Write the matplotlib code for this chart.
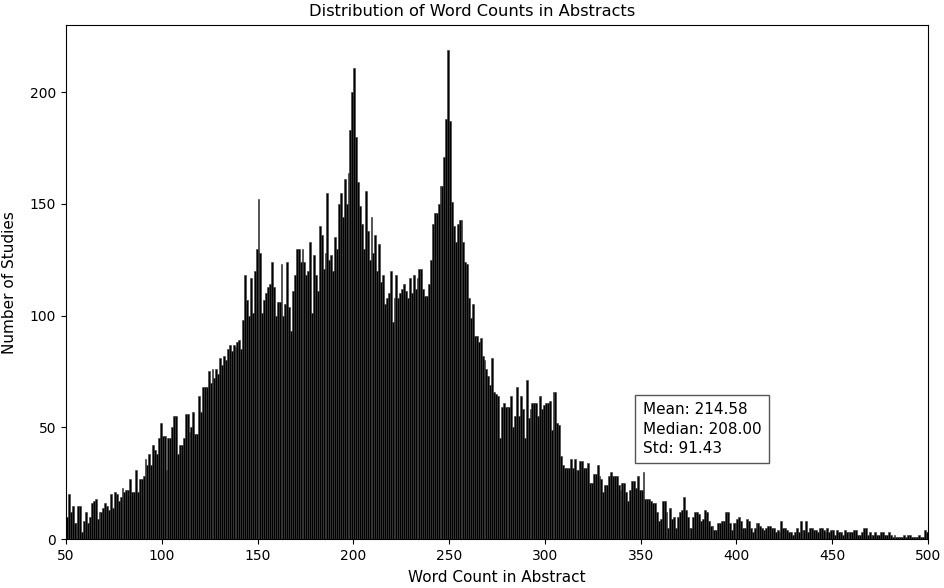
import numpy as np
import matplotlib
matplotlib.use("Agg")
import matplotlib.pyplot as plt

# Word-count bins (width 1) starting at 50
bin_start = 50
counts_050 = [10, 20, 12, 15, 7, 7, 15, 15, 3, 8]
counts_060 = [12, 7, 10, 16, 17, 18, 9, 12, 12, 14]
counts_070 = [16, 15, 13, 20, 14, 21, 20, 17, 19, 23]
counts_080 = [21, 22, 22, 27, 21, 21, 31, 21, 27, 27]
counts_090 = [28, 36, 33, 38, 33, 42, 40, 38, 45, 52]
counts_100 = [46, 46, 31, 45, 45, 50, 55, 55, 38, 42]
counts_110 = [42, 45, 56, 56, 48, 50, 57, 47, 47, 64]
counts_120 = [57, 68, 68, 68, 75, 70, 76, 72, 76, 74]
counts_130 = [81, 78, 82, 80, 85, 87, 84, 87, 86, 88]
counts_140 = [89, 85, 98, 118, 107, 100, 117, 101, 120, 130]
counts_150 = [152, 128, 101, 107, 110, 113, 114, 124, 113, 100]
counts_160 = [106, 106, 123, 100, 105, 124, 104, 93, 111, 118]
counts_170 = [130, 130, 124, 130, 124, 118, 120, 133, 101, 127]
counts_180 = [118, 111, 140, 136, 121, 128, 155, 125, 127, 120]
counts_190 = [135, 130, 150, 155, 144, 161, 150, 164, 183, 200]
counts_200 = [211, 180, 160, 149, 141, 130, 156, 138, 125, 144]
counts_210 = [128, 136, 120, 132, 115, 118, 105, 108, 110, 120]
counts_220 = [97, 108, 118, 108, 110, 112, 114, 111, 108, 117]
counts_230 = [110, 118, 112, 117, 121, 121, 112, 109, 109, 114]
counts_240 = [125, 141, 146, 146, 150, 158, 158, 171, 188, 219]
counts_250 = [187, 151, 140, 133, 141, 143, 143, 133, 124, 123]
counts_260 = [108, 99, 105, 91, 91, 88, 90, 82, 80, 76]
counts_270 = [73, 69, 81, 66, 65, 64, 45, 59, 61, 59]
counts_280 = [59, 59, 64, 50, 55, 68, 55, 64, 58, 45]
counts_290 = [71, 54, 58, 61, 61, 61, 55, 64, 58, 60]
counts_300 = [61, 61, 62, 49, 66, 66, 52, 51, 37, 33]
counts_310 = [32, 32, 32, 36, 32, 36, 31, 31, 35, 35]
counts_320 = [32, 32, 34, 25, 25, 29, 29, 33, 28, 27]
counts_330 = [21, 24, 24, 28, 30, 28, 28, 28, 24, 22]
counts_340 = [25, 25, 21, 17, 22, 26, 26, 23, 28, 22]
counts_350 = [22, 30, 18, 18, 18, 17, 16, 16, 12, 8]
counts_360 = [9, 17, 17, 12, 5, 14, 9, 10, 5, 10]
counts_370 = [12, 13, 19, 13, 10, 5, 5, 10, 12, 12]
counts_380 = [11, 8, 9, 13, 12, 8, 6, 6, 4, 4]
counts_390 = [7, 7, 8, 8, 12, 12, 7, 4, 7, 7]
counts_400 = [9, 10, 8, 5, 5, 9, 8, 5, 3, 5]
counts_410 = [7, 7, 6, 5, 4, 5, 6, 6, 5, 5]
counts_420 = [3, 4, 3, 8, 5, 5, 4, 3, 3, 2]
counts_430 = [3, 5, 3, 8, 4, 4, 8, 3, 5, 5]
counts_440 = [4, 4, 3, 5, 5, 4, 3, 5, 3, 4]
counts_450 = [4, 2, 4, 3, 3, 2, 4, 3, 3, 3]
counts_460 = [3, 4, 4, 2, 2, 3, 5, 5, 2, 3]
counts_470 = [2, 2, 3, 2, 2, 3, 3, 2, 2, 3]
counts_480 = [2, 1, 2, 1, 1, 1, 1, 2, 1, 2]
counts_490 = [2, 1, 1, 1, 1, 2, 1, 1, 4, 3]

counts = (counts_050 + counts_060 + counts_070 + counts_080 + counts_090 +
          counts_100 + counts_110 + counts_120 + counts_130 + counts_140 +
          counts_150 + counts_160 + counts_170 + counts_180 + counts_190 +
          counts_200 + counts_210 + counts_220 + counts_230 + counts_240 +
          counts_250 + counts_260 + counts_270 + counts_280 + counts_290 +
          counts_300 + counts_310 + counts_320 + counts_330 + counts_340 +
          counts_350 + counts_360 + counts_370 + counts_380 + counts_390 +
          counts_400 + counts_410 + counts_420 + counts_430 + counts_440 +
          counts_450 + counts_460 + counts_470 + counts_480 + counts_490)
bins = np.arange(bin_start, bin_start + len(counts))

stats_text = "Mean: 214.58\nMedian: 208.00\nStd: 91.43"

fig = plt.figure(figsize=(9.45, 5.88), dpi=100)
ax = fig.add_axes([0.0698, 0.0833, 0.9122, 0.8736])
ax.bar(bins, counts, width=1.0, align='edge', color='black',
       edgecolor='#3a3a3a', linewidth=0.4)
ax.set_xlim(50, 500)
ax.set_ylim(0, max(counts) * 1.05)
ax.tick_params(labelsize=10)
fig.text(0.5, 1 - 12 / 588, "Distribution of Word Counts in Abstracts",
         fontsize=11.7, ha='center', va='center')
ax.set_xlabel("Word Count in Abstract", fontsize=11, labelpad=5)
ax.set_ylabel("Number of Studies", fontsize=11)
ax.yaxis.set_label_coords(-0.057, 0.5)
ax.text(0.669, 0.266, stats_text, transform=ax.transAxes, fontsize=11,
        va='top', ha='left', linespacing=1.35,
        bbox=dict(boxstyle='square,pad=0.5', facecolor='white', edgecolor='#555555'))
fig.savefig("out.png", dpi=100)
